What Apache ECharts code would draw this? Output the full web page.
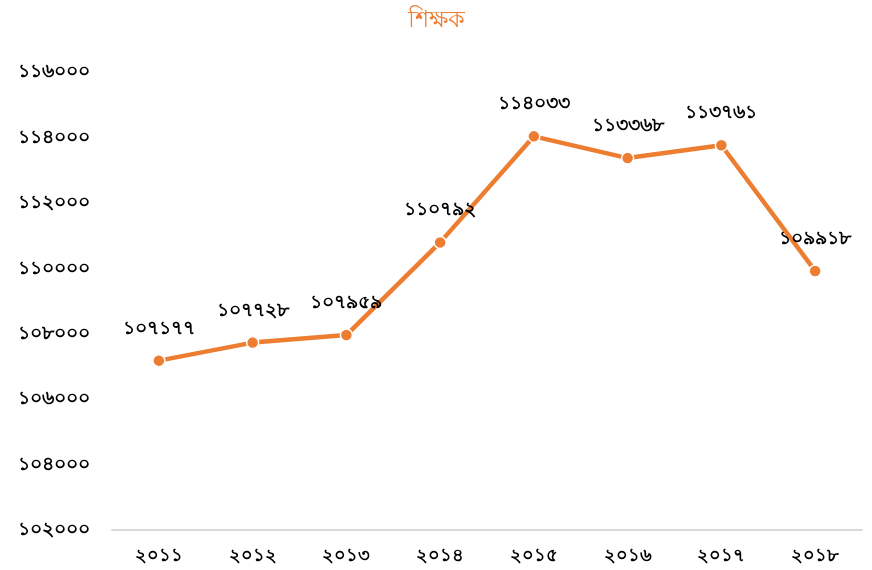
<!DOCTYPE html>
<html>
<head>
<meta charset="utf-8">
<script src="https://cdn.jsdelivr.net/npm/echarts@6/dist/echarts.min.js"></script>
<style>
  html, body { margin: 0; padding: 0; background: #fff; }
  #main { width: 872px; height: 570px; }
</style>
</head>
<body>
<div id="main"></div>
<script>
var titleText = 'শিক্ষক';
var years = [2011, 2012, 2013, 2014, 2015, 2016, 2017, 2018];
var teachers = [107177, 107728, 107959, 110792, 114033, 113368, 113761, 109918];

var bnDigits = ['০', '১', '২', '৩', '৪', '৫', '৬', '৭', '৮', '৯'];
function toBn(n) {
  return String(n).replace(/[0-9]/g, function (d) { return bnDigits[+d]; });
}

var chart = echarts.init(document.getElementById('main'));
var option = {
  animation: false,
  title: {
    text: titleText,
    left: 'center',
    top: 3,
    textStyle: { color: '#ED7D31', fontSize: 24, fontWeight: 'normal' }
  },
  grid: { left: 112, right: 10, top: 72, bottom: 40 },
  xAxis: {
    type: 'category',
    data: years.map(toBn),
    axisLine: { lineStyle: { color: '#d9d9d9', width: 2 } },
    axisTick: { show: false },
    axisLabel: { color: '#000', fontSize: 18, fontWeight: 'bold', margin: 17 }
  },
  yAxis: {
    type: 'value',
    min: 102000,
    max: 116000,
    interval: 2000,
    splitLine: { show: false },
    axisLine: { show: false },
    axisTick: { show: false },
    axisLabel: { color: '#000', fontSize: 19, fontWeight: 'bold', margin: 22, formatter: function (v) { return toBn(v); } }
  },
  series: [{
    type: 'line',
    data: teachers,
    symbol: 'circle',
    symbolSize: 12,
    lineStyle: { color: '#ED7D31', width: 4.5 },
    itemStyle: { color: '#ED7D31', borderColor: '#fff', borderWidth: 1.5 },
    label: {
      show: true,
      position: 'top',
      distance: 16,
      color: '#000',
      fontSize: 19,
      fontWeight: 'bold',
      formatter: function (p) { return toBn(p.value); }
    }
  }]
};
chart.setOption(option);
</script>
</body>
</html>
